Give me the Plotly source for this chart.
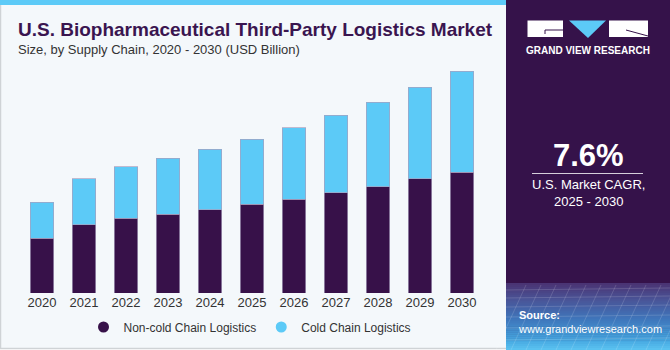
import plotly.graph_objects as go

years = ["2020", "2021", "2022", "2023", "2024", "2025", "2026", "2027", "2028", "2029", "2030"]
non_cold = [21.5, 26.8, 29.4, 31.1, 32.8, 34.9, 37.0, 39.4, 41.9, 44.9, 47.6]
cold = [14.2, 18.1, 20.3, 21.9, 23.9, 25.7, 28.1, 30.6, 33.3, 36.2, 39.8]
series_names = ["Non-cold Chain Logistics", "Cold Chain Logistics"]
highlight_year = "2024"
highlight_label = "$56.7B"
cagr = "7.6%"

W, H = 670, 350
DARK = "#371149"
CYAN = "#5ccaf7"
PANEL = "#35124a"
FONT = "Liberation Sans"

def px(x):
    return x / W

def py(y):
    return 1 - y / H

fig = go.Figure()
line = dict(color="rgba(170,160,190,0.7)", width=1)
fig.add_trace(go.Bar(x=years, y=non_cold, name=series_names[0], marker=dict(color=DARK, line=line), showlegend=False))
fig.add_trace(go.Bar(x=years, y=cold, name=series_names[1], marker=dict(color=CYAN, line=line), showlegend=False))
# legend proxies with circle markers (points placed below the visible range)
fig.add_trace(go.Scatter(x=[years[0]], y=[-1000], mode="markers", name=series_names[0], cliponaxis=True,
                         marker=dict(symbol="circle", size=11, color=DARK)))
fig.add_trace(go.Scatter(x=[years[0]], y=[-1000], mode="markers", name=series_names[1], cliponaxis=True,
                         marker=dict(symbol="circle", size=11, color=CYAN)))

shapes = []
shapes.append(dict(type="rect", xref="paper", yref="paper", x0=px(0.5), x1=px(507), y0=py(348.5), y1=py(1),
                   fillcolor="#f4f8fb", line=dict(color="#cfd3d6", width=1.5), layer="below"))
shapes.append(dict(type="rect", xref="paper", yref="paper", x0=px(0), x1=px(507), y0=py(5), y1=py(0),
                   fillcolor=CYAN, line=dict(width=0), layer="below"))
shapes.append(dict(type="rect", xref="paper", yref="paper", x0=px(506), x1=px(670), y0=py(350), y1=py(0),
                   fillcolor=PANEL, line=dict(width=0), layer="below"))
stops = [(283, (0x4a, 0x33, 0x72)), (300, (0x4a, 0x55, 0x98)), (320, (0x3f, 0x78, 0xbd)), (340, (0x45, 0xa6, 0xe0)), (350, (0x5c, 0xc4, 0xf2))]
n = 34
for i in range(n):
    y0 = 283 + i * (350 - 283) / n
    y1 = 283 + (i + 1) * (350 - 283) / n
    ym = (y0 + y1) / 2
    for j in range(len(stops) - 1):
        a, ca = stops[j]
        b, cb = stops[j + 1]
        if a <= ym <= b:
            t = (ym - a) / (b - a)
            c = tuple(int(ca[k] + (cb[k] - ca[k]) * t) for k in range(3))
            break
    shapes.append(dict(type="rect", xref="paper", yref="paper", x0=px(506), x1=px(670), y0=py(y1 + 0.5), y1=py(y0),
                       fillcolor="rgb(%d,%d,%d)" % c, line=dict(width=0), layer="below"))
for k in range(12):
    xx = 506 + k * 15
    shapes.append(dict(type="line", xref="paper", yref="paper", x0=px(xx + 20), x1=px(xx - 10), y0=py(285), y1=py(350),
                       line=dict(color="rgba(255,255,255,0.15)", width=1), layer="below"))
for k, yy in enumerate([290, 298, 307, 317, 328, 340]):
    shapes.append(dict(type="line", xref="paper", yref="paper", x0=px(506), x1=px(670), y0=py(yy), y1=py(yy - 2),
                       line=dict(color="rgba(255,255,255,0.15)", width=1), layer="below"))
# logo
shapes.append(dict(type="rect", xref="paper", yref="paper", x0=px(527.5), x1=px(563), y0=py(37), y1=py(20.5),
                   fillcolor="white", line=dict(width=0)))
shapes.append(dict(type="line", xref="paper", yref="paper", x0=px(545), x1=px(563), y0=py(30), y1=py(30),
                   line=dict(color=PANEL, width=1)))
shapes.append(dict(type="line", xref="paper", yref="paper", x0=px(545), x1=px(545), y0=py(30), y1=py(34),
                   line=dict(color=PANEL, width=1)))
shapes.append(dict(type="path", xref="paper", yref="paper",
                   path="M %f,%f L %f,%f L %f,%f Z" % (px(569), py(20.5), px(606), py(20.5), px(588), py(38)),
                   fillcolor=CYAN, line=dict(width=0)))
shapes.append(dict(type="rect", xref="paper", yref="paper", x0=px(609), x1=px(648), y0=py(37), y1=py(20.5),
                   fillcolor="white", line=dict(width=0)))
shapes.append(dict(type="line", xref="paper", yref="paper", x0=px(626), x1=px(648), y0=py(30), y1=py(36),
                   line=dict(color=PANEL, width=1)))
shapes.append(dict(type="line", xref="paper", yref="paper", x0=px(532), x1=px(643), y0=py(173.5), y1=py(173.5),
                   line=dict(color="rgba(255,255,255,0.8)", width=1)))

ann = []
ann.append(dict(x=px(16), y=py(29.5), xref="paper", yref="paper", xanchor="left", yanchor="middle", showarrow=False,
                text="<b>U.S. Biopharmaceutical Third-Party Logistics Market</b>",
                font=dict(family=FONT, size=19, color="#3a1550")))
ann.append(dict(x=px(16), y=py(50), xref="paper", yref="paper", xanchor="left", yanchor="middle", showarrow=False,
                text="Size, by Supply Chain, 2020 - 2030 (USD Billion)",
                font=dict(family=FONT, size=13, color="#333333")))
ann.append(dict(x=highlight_year, y=non_cold[years.index(highlight_year)] + cold[years.index(highlight_year)],
                xref="x", yref="y", xanchor="center", yanchor="bottom", yshift=8, showarrow=False,
                text=highlight_label, font=dict(family=FONT, size=14, color="#333333")))
ann.append(dict(x=px(588), y=py(51), xref="paper", yref="paper", xanchor="center", yanchor="middle", showarrow=False,
                text="<b>GRAND VIEW RESEARCH</b>", font=dict(family=FONT, size=10, color="white")))
ann.append(dict(x=px(588), y=py(155), xref="paper", yref="paper", xanchor="center", yanchor="middle", showarrow=False,
                text="<b>%s</b>" % cagr, font=dict(family=FONT, size=31, color="white")))
ann.append(dict(x=px(588), y=py(193), xref="paper", yref="paper", xanchor="center", yanchor="middle", showarrow=False,
                text="U.S. Market CAGR,<br>2025 - 2030", font=dict(family=FONT, size=13, color="white")))
ann.append(dict(x=px(516), y=py(322), xref="paper", yref="paper", xanchor="left", yanchor="middle", showarrow=False,
                align="left", text="<b>Source:</b><br>www.grandviewresearch.com",
                font=dict(family=FONT, size=11, color="white")))

fig.update_layout(
    width=W, height=H,
    margin=dict(l=0, r=0, t=0, b=0),
    paper_bgcolor="white", plot_bgcolor="rgba(0,0,0,0)",
    barmode="stack", bargap=0.45,
    font=dict(family=FONT, size=13, color="#333333"),
    xaxis=dict(domain=[px(21), px(483)], type="category", categoryorder="array", categoryarray=years,
               range=[-0.5, len(years) - 0.5], showgrid=False, zeroline=False, showline=False,
               ticks="", tickfont=dict(family=FONT, size=13, color="#333333"), fixedrange=True),
    yaxis=dict(domain=[py(293), py(60)], range=[0, 233 * 56.7 / 144], showgrid=False, zeroline=False,
               showticklabels=False, showline=False, fixedrange=True),
    legend=dict(orientation="h", x=px(250), xanchor="center", y=py(327), yanchor="middle", traceorder="normal",
                font=dict(family=FONT, size=12, color="#333333"), bgcolor="rgba(0,0,0,0)", itemwidth=30),
    shapes=shapes, annotations=ann,
)

fig.write_html("out.html")
